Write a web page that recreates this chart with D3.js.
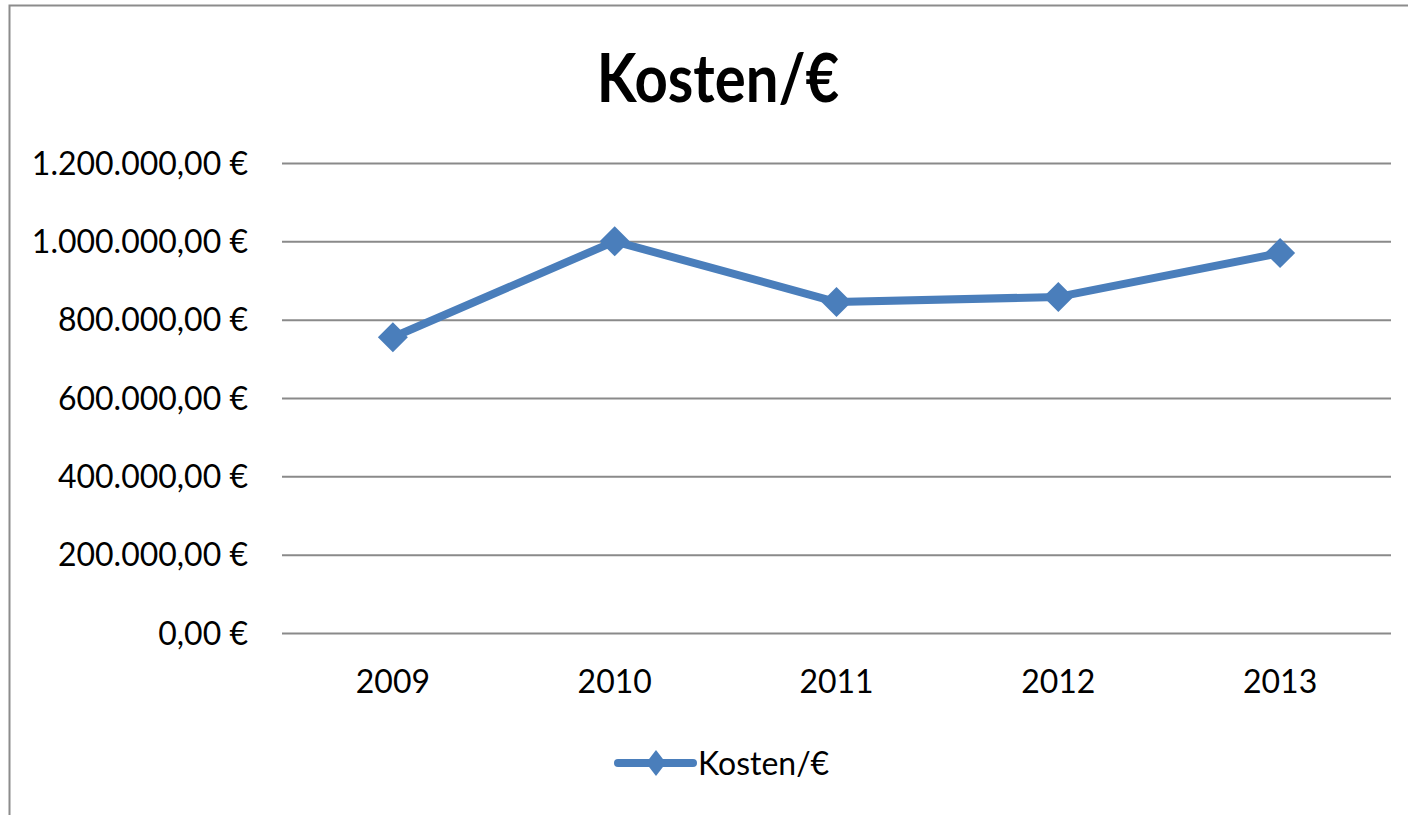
<!DOCTYPE html>
<html>
<head>
<meta charset="utf-8">
<script src="https://cdn.jsdelivr.net/npm/d3@7"></script>
<style>
  html, body { margin: 0; padding: 0; background: #fff; }
  svg { display: block; }
</style>
</head>
<body>
<div id="chart"></div>
<script>
const years = ['2009', '2010', '2011', '2012', '2013'];
const kosten = [755000, 1000000, 845000, 858000, 970000];
const yTicks = [0, 200000, 400000, 600000, 800000, 1000000, 1200000];
const chartTitle = 'Kosten/€';
const seriesName = 'Kosten/€';

const width = 1408;
const height = 815;
const blue = '#4a7ebb';
const grid = '#8a8a8a';
const font = 'Lato, "Open Sans", sans-serif';
const sxTitle = 0.88; // horizontal squeeze of the source picture
const sxLabel = 0.97;

const de = d3.formatLocale({ decimal: ',', thousands: '.', grouping: [3], currency: ['', ' €'] });
const fmt = de.format('$,.2f');

const svg = d3.select('#chart').append('svg').attr('width', width).attr('height', height);
svg.append('rect').attr('width', width).attr('height', height).attr('fill', '#fff');
// outer chart frame (cropped on right and bottom)
svg.append('rect').attr('x', 9.5).attr('y', 5.5).attr('width', width + 20).attr('height', height + 20)
  .attr('fill', 'none').attr('stroke', '#8c8c8c').attr('stroke-width', 2);

const margin = { top: 163, right: 17, bottom: 182, left: 282 };
const innerW = width - margin.left - margin.right;
const innerH = height - margin.top - margin.bottom;
const g = svg.append('g').attr('transform', `translate(${margin.left},${margin.top})`);

const x = d3.scaleBand(years, [0, innerW]);
const y = d3.scaleLinear([0, 1200000], [innerH, 0]);

// title
svg.append('g').attr('transform', `translate(718,102) scale(${sxTitle},1)`)
  .append('text').attr('text-anchor', 'middle').attr('font-family', font).attr('font-weight', 700)
  .attr('font-size', 66).attr('fill', '#000').text(chartTitle);

// y axis with gridlines
const yAxis = g.append('g').call(d3.axisLeft(y).tickValues(yTicks).tickFormat(fmt).tickSize(-innerW).tickPadding(0));
yAxis.select('.domain').remove();
yAxis.selectAll('.tick line').attr('stroke', grid).attr('stroke-width', 2);
yAxis.selectAll('.tick text').attr('x', null).attr('dy', null).attr('font-family', font).attr('font-size', 33)
  .attr('fill', '#000').attr('text-anchor', 'end')
  .attr('transform', `translate(-34,11) scale(${sxLabel},1)`);

// x axis labels
const xAxis = g.append('g').attr('transform', `translate(0,${innerH})`).call(d3.axisBottom(x).tickSize(0).tickPadding(0));
xAxis.select('.domain').remove();
xAxis.selectAll('.tick text').attr('y', null).attr('dy', null).attr('font-family', font).attr('font-size', 33)
  .attr('fill', '#000').attr('text-anchor', 'middle')
  .attr('transform', `translate(0,60) scale(${sxLabel},1)`);

const cx = (d, i) => x(years[i]) + x.bandwidth() / 2;
const line = d3.line().x((d, i) => cx(d, i)).y((d) => y(d));
g.append('path').datum(kosten).attr('d', line).attr('fill', 'none').attr('stroke', blue)
  .attr('stroke-width', 8).attr('stroke-linejoin', 'round');

const diamond = (w, h) => `M0,${-h}L${w},0L0,${h}L${-w},0Z`;
g.append('g').selectAll('path').data(kosten).join('path')
  .attr('transform', (d, i) => `translate(${cx(d, i)},${y(d)})`)
  .attr('d', diamond(15, 15)).attr('fill', blue);

// legend
const lg = svg.append('g').attr('transform', 'translate(618,763)');
lg.append('line').attr('x1', 0).attr('x2', 75).attr('stroke', blue).attr('stroke-width', 8).attr('stroke-linecap', 'round');
lg.append('path').attr('transform', 'translate(38,0)').attr('d', diamond(10, 13)).attr('fill', blue);
lg.append('g').attr('transform', `translate(80,12) scale(${sxLabel},1)`)
  .append('text').attr('font-family', font).attr('font-size', 33).attr('fill', '#000').text(seriesName);
</script>
</body>
</html>
